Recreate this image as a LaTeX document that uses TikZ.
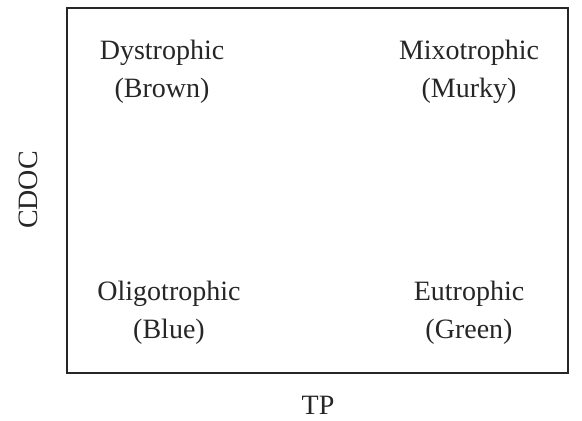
\documentclass[tikz,border=0pt]{standalone}
\usepackage{fontspec}
\setmainfont{Liberation Serif}
\begin{document}
\begin{tikzpicture}[x=1pt,y=-1pt,
  lbl/.style={font=\fontsize{28}{38}\selectfont, align=center, inner sep=0pt, text=black!85},
  frame/.style={draw=black!85, line width=1.6pt}]
\useasboundingbox (0,0) rectangle (582,421);
\draw[frame] (67,8) rectangle (568,373);
\node[lbl] (dys) at (162,72) {Dystrophic\\(Brown)};
\node[lbl] (mix) at (469,72) {Mixotrophic\\(Murky)};
\node[lbl] (oli) at (169,313) {Oligotrophic\\(Blue)};
\node[lbl] (eut) at (469,313) {Eutrophic\\(Green)};
\node[lbl, rotate=90] (cdoc) at (28,190) {CDOC};
\node[lbl] (tp) at (318,405) {TP};
\end{tikzpicture}
\end{document}
